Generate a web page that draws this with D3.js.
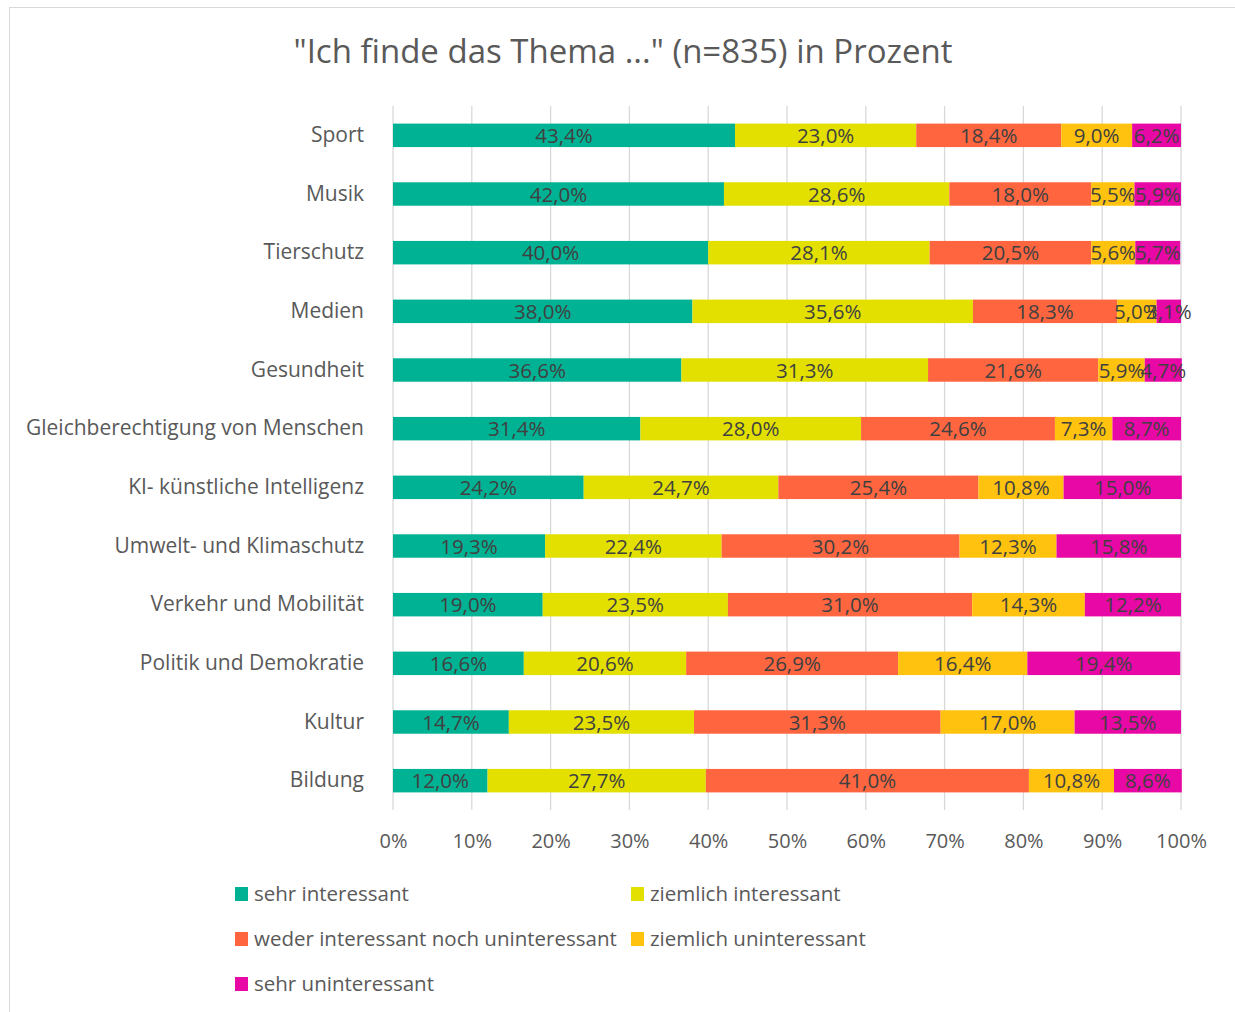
<!DOCTYPE html>
<html>
<head>
<meta charset="utf-8">
<script src="https://cdn.jsdelivr.net/npm/d3@7"></script>
<style>
  body { margin: 0; background: #fff; }
  svg { font-family: "Open Sans", "Noto Sans", sans-serif; }
</style>
</head>
<body>
<div id="chart"></div>
<script>
// Categories (top to bottom)
const topics = ["Sport", "Musik", "Tierschutz", "Medien", "Gesundheit",
  "Gleichberechtigung von Menschen", "KI- künstliche Intelligenz",
  "Umwelt- und Klimaschutz", "Verkehr und Mobilität",
  "Politik und Demokratie", "Kultur", "Bildung"];

// Series names
const seriesNames = ["sehr interessant", "ziemlich interessant",
  "weder interessant noch uninteressant", "ziemlich uninteressant",
  "sehr uninteressant"];

// Series values, in percent, one per topic
const sehrInteressant    = [43.4, 42.0, 40.0, 38.0, 36.6, 31.4, 24.2, 19.3, 19.0, 16.6, 14.7, 12.0];
const ziemlichInteressant = [23.0, 28.6, 28.1, 35.6, 31.3, 28.0, 24.7, 22.4, 23.5, 20.6, 23.5, 27.7];
const weder              = [18.4, 18.0, 20.5, 18.3, 21.6, 24.6, 25.4, 30.2, 31.0, 26.9, 31.3, 41.0];
const ziemlichUnint      = [ 9.0,  5.5,  5.6,  5.0,  5.9,  7.3, 10.8, 12.3, 14.3, 16.4, 17.0, 10.8];
const sehrUnint          = [ 6.2,  5.9,  5.7,  3.1,  4.7,  8.7, 15.0, 15.8, 12.2, 19.4, 13.5,  8.6];

const xTicks = [0, 10, 20, 30, 40, 50, 60, 70, 80, 90, 100];

const colors = ["#00B294", "#E3E000", "#FF6640", "#FFC20E", "#E808A6"];

const W = 1235, H = 1012;
const margin = {top: 106, right: 54, bottom: 202, left: 393};
const width = W - margin.left - margin.right;
const height = H - margin.top - margin.bottom;

// Build rows for the stack
const allSeries = [sehrInteressant, ziemlichInteressant, weder, ziemlichUnint, sehrUnint];
const rows = topics.map((t, i) => {
  const r = {topic: t};
  seriesNames.forEach((s, j) => r[s] = allSeries[j][i]);
  return r;
});

const stacked = d3.stack().keys(seriesNames)(rows);

const svg = d3.select("#chart").append("svg")
  .attr("width", W)
  .attr("height", H);

// Chart border
svg.append("rect")
  .attr("x", 9.5).attr("y", 7.5)
  .attr("width", W).attr("height", H)
  .attr("fill", "#fff")
  .attr("stroke", "#d9d9d9");

// Title
svg.append("text")
  .attr("x", 623).attr("y", 63)
  .attr("text-anchor", "middle")
  .attr("fill", "#595959")
  .style("font-size", "33px")
  .text('"Ich finde das Thema ..." (n=835) in Prozent');

const g = svg.append("g")
  .attr("transform", `translate(${margin.left},${margin.top})`);

const x = d3.scaleLinear().domain([0, 100]).range([0, width]);
const y = d3.scaleBand().domain(topics).range([0, height]).paddingInner(0.6).paddingOuter(0.3);

// Vertical gridlines
g.append("g")
  .selectAll("line")
  .data(xTicks)
  .join("line")
  .attr("x1", d => x(d)).attr("x2", d => x(d))
  .attr("y1", 0).attr("y2", height)
  .attr("stroke", "#d9d9d9")
  .attr("stroke-width", 1.3);

// X axis labels
const xAxis = g.append("g")
  .attr("transform", `translate(0,${height})`)
  .call(d3.axisBottom(x).tickValues(xTicks).tickFormat(d => d + "%").tickSize(0).tickPadding(24));
xAxis.select(".domain").remove();
xAxis.selectAll("text")
  .attr("fill", "#595959")
  .style("font-size", "20px")
  .style("font-family", "'Open Sans', sans-serif");

// Y axis labels
const yAxis = g.append("g")
  .call(d3.axisLeft(y).tickSize(0).tickPadding(29));
yAxis.select(".domain").remove();
yAxis.selectAll("text")
  .attr("fill", "#595959")
  .style("font-size", "21px")
  .style("font-family", "'Open Sans', sans-serif");

// Bars
const layers = g.append("g")
  .selectAll("g")
  .data(stacked)
  .join("g")
  .attr("fill", (d, i) => colors[i]);

layers.selectAll("rect")
  .data(d => d)
  .join("rect")
  .attr("x", d => x(d[0]))
  .attr("y", d => y(d.data.topic))
  .attr("width", d => x(d[1]) - x(d[0]))
  .attr("height", y.bandwidth());

// Data labels
const fmt = v => v.toFixed(1).replace(".", ",") + "%";
layers.selectAll("text")
  .data(d => d.map(p => ({p, key: d.key})))
  .join("text")
  .attr("x", d => x((d.p[0] + d.p[1]) / 2))
  .attr("y", d => y(d.p.data.topic) + y.bandwidth() / 2)
  .attr("dy", "0.37em")
  .attr("text-anchor", "middle")
  .attr("fill", "#404040")
  .style("font-size", "20.5px")
  .text(d => fmt(d.p.data[d.key]));

// Legend
const legendPos = [[235, 894], [631, 894], [235, 939], [631, 939], [235, 984]];
const legend = svg.append("g")
  .selectAll("g")
  .data(seriesNames)
  .join("g")
  .attr("transform", (d, i) => `translate(${legendPos[i][0]},${legendPos[i][1]})`);

legend.append("rect")
  .attr("x", 0).attr("y", -7)
  .attr("width", 13).attr("height", 14)
  .attr("fill", (d, i) => colors[i]);

legend.append("text")
  .attr("x", 19).attr("y", 0)
  .attr("dy", "0.36em")
  .attr("fill", "#595959")
  .style("font-size", "20.5px")
  .text(d => d);
</script>
</body>
</html>
